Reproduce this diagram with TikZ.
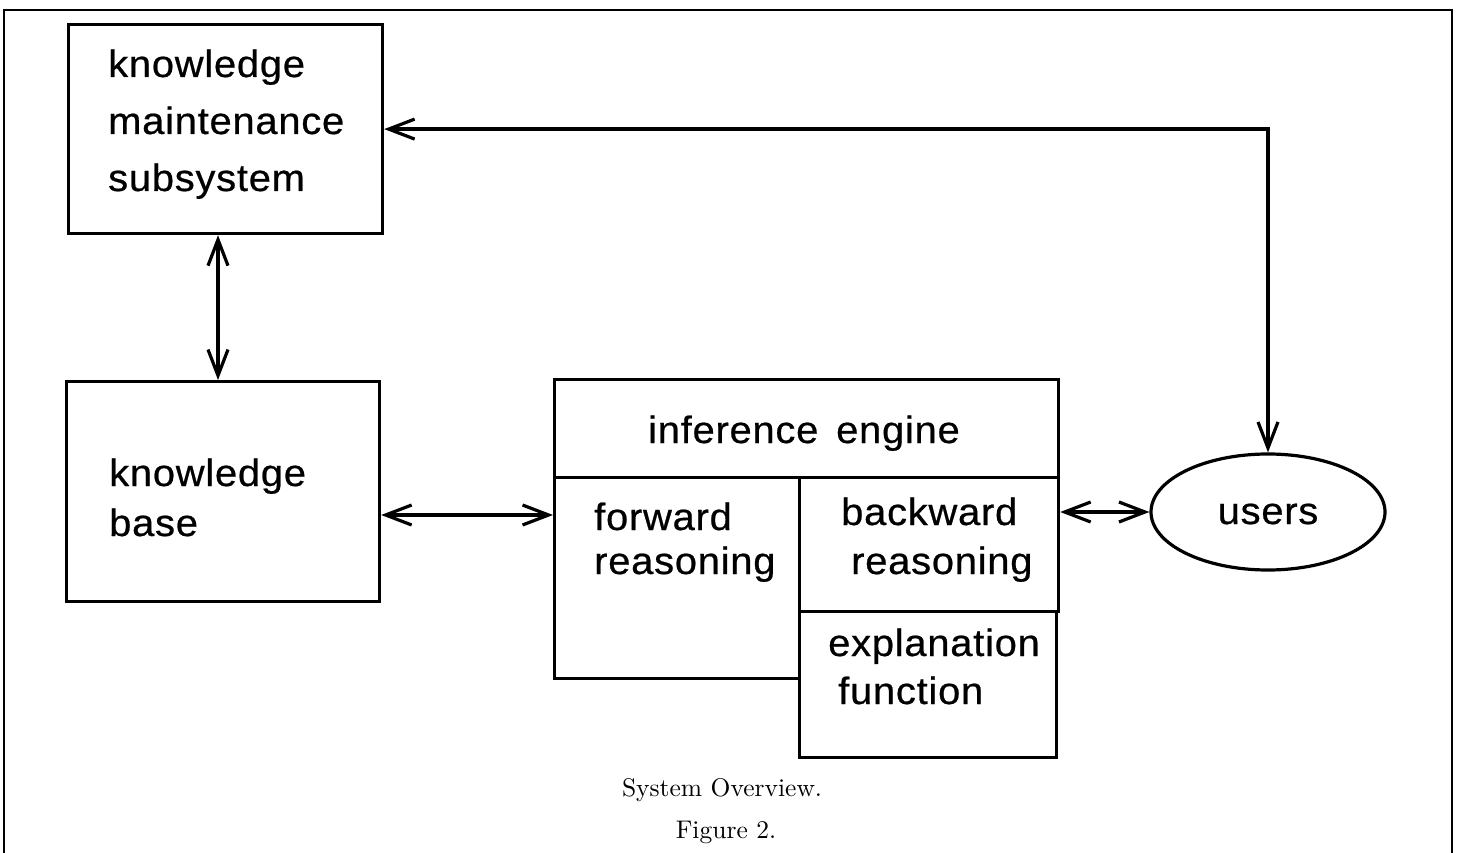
\documentclass[tikz,border=0pt]{standalone}
\usepackage{fontspec}
\usetikzlibrary{arrows.meta,shapes.geometric,calc}
\newfontfamily\lab[FakeStretch=1.05,LetterSpace=2,FakeBold=0.6]{Liberation Sans}
\newfontfamily\capfont{lmroman10-regular}[Extension=.otf]
\begin{document}
\begin{tikzpicture}[x=1pt,y=-1pt,
  box/.style={draw,line width=3.2pt,rectangle,inner sep=0pt,anchor=north west},
  lbl/.style={font=\lab\fontsize{38}{40}\selectfont,inner sep=0pt,anchor=base west},
  captxt/.style={font=\capfont\fontsize{25.5}{30}\selectfont,inner sep=0pt,anchor=base},
  arr/.style={line width=3.2pt,{Straight Barb[length=26pt,width=20pt,line width=3.2pt]}-{Straight Barb[length=26pt,width=20pt,line width=3.2pt]}}]
\useasboundingbox (0,0) rectangle (1460,853);
% frame
\draw[line width=1.8pt] (4,853) -- (4,10) -- (1452,10) -- (1452,853);
% boxes
\node[box,minimum width=314pt,minimum height=209pt] (kms) at (67,23) {};
\node[box,minimum width=313pt,minimum height=220pt] (kb) at (65,380) {};
\node[box,minimum width=504pt,minimum height=98pt] (ie) at (553,378) {};
\node[box,minimum width=245pt,minimum height=201pt] (fr) at (553,476) {};
\node[box,minimum width=259pt,minimum height=134pt] (br) at (798,476) {};
\node[box,minimum width=257pt,minimum height=146pt] (ex) at (798,610) {};
\node[draw,line width=3.2pt,ellipse,inner sep=0pt,minimum width=234pt,minimum height=116pt] (users) at (1268,512) {};
% texts
\node[lbl] (t1) at (108,77) {knowledge};
\node[lbl] (t2) at (108,134) {maintenance};
\node[lbl] (t3) at (108,191) {subsystem};
\node[lbl] (t4) at (109,486) {knowledge};
\node[lbl] (t5) at (109,536) {base};
\node[lbl,anchor=base] (t6) at (804,443) {inference\hspace{6pt} engine};
\node[lbl] (t7) at (594,530) {forward};
\node[lbl] (t8) at (594,574) {reasoning};
\node[lbl] (t9) at (841,525) {backward};
\node[lbl] (t10) at (851,574) {reasoning};
\node[lbl] (t11) at (828,656) {explanation};
\node[lbl] (t12) at (838,704) {function};
\node[lbl,anchor=base] (t13) at (1268,524) {users};
\node[captxt] (c1) at (722,796) {System Overview.};
\node[captxt] (c2) at (726,838) {Figure 2.};
% connectors
\coordinate (vx) at (218,0);
\coordinate (hy1) at (0,515);
\draw[arr] (vx |- kms.south) -- (vx |- kb.north);
\draw[arr] (kb.east |- hy1) -- (fr.west |- hy1);
\draw[arr] (users.west -| br.east) -- (users.west);
\draw[arr] (kms.east) -| (users.north);
\end{tikzpicture}
\end{document}
